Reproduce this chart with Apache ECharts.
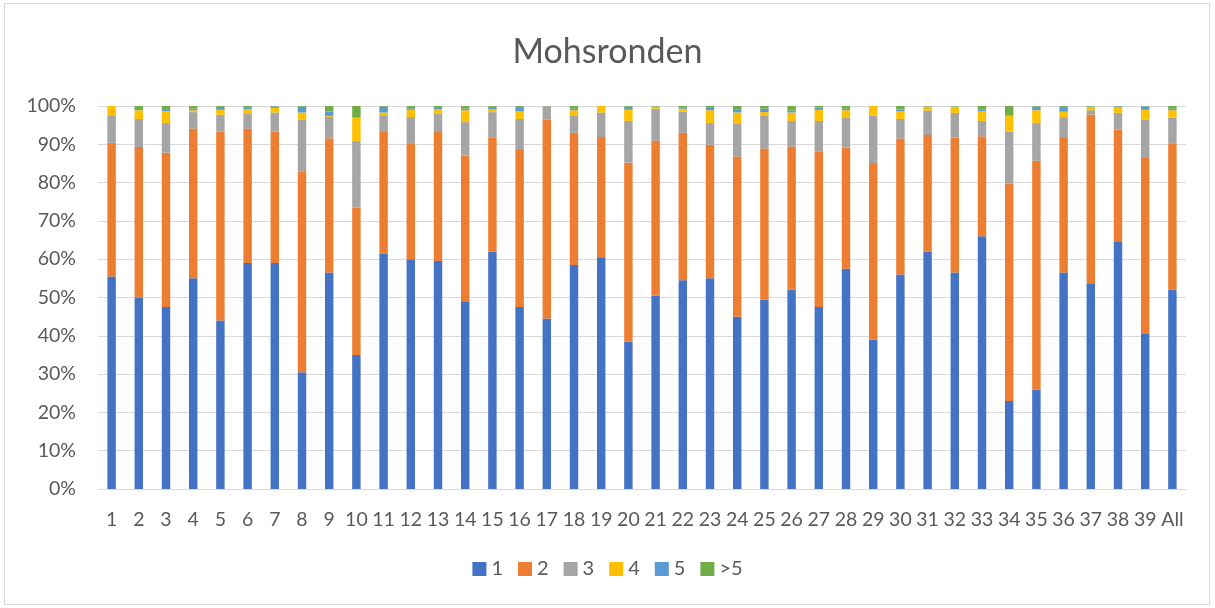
<!DOCTYPE html>
<html>
<head>
<meta charset="utf-8">
<script src="https://cdn.jsdelivr.net/npm/echarts@6/dist/echarts.min.js"></script>
<style>html,body{margin:0;padding:0;background:#fff}#c{width:1215px;height:608px}</style>
</head>
<body>
<div id="c"></div>
<script>
const categories = ['1','2','3','4','5','6','7','8','9','10','11','12','13','14','15','16','17','18','19','20','21','22','23','24','25','26','27','28','29','30','31','32','33','34','35','36','37','38','39','All'];
const s1 = [55.5,50,47.5,55,44,59,59,30.5,56.5,35,61.5,60,59.5,49,62,47.5,44.5,58.5,60.5,38.5,50.5,54.5,55,45,49.5,52,47.5,57.5,39,56,62,56.5,66,23,26,56.5,53.5,64.5,40.5,52];
const s2 = [34.9,39.3,40.3,39.1,49.3,35.1,34.3,52.3,35.1,38.5,31.7,30.1,33.7,38.1,29.7,41,51.9,34.5,31.4,46.7,40.4,38.5,34.9,41.8,39.4,37.4,40.7,31.6,46.1,35.5,30.4,35.3,26.1,56.7,59.7,35.4,44.3,29.3,45.9,38.1];
const s3 = [7.2,7.3,7.8,4.3,4.4,3.8,5,13.7,5.6,17.4,4.2,7,4.7,8.7,6.7,8.1,3.4,4.4,6.4,10.9,8.4,5.5,5.7,8.5,8.5,6.7,7.9,7.8,12.4,5.1,6.4,6.4,4,13.6,9.9,5.2,1.1,4.4,10.1,6.9];
const s4 = [2.4,2.3,3.1,0.5,1.3,1.3,1.2,1.8,0.2,6,0.9,1.9,1.3,3.1,0.7,2,0.1,1.5,1.7,2.9,0.5,0.8,3.3,3,1,2.2,2.9,2,2.5,2,1,1.6,2.5,4.1,3.3,1.4,0.9,1.4,2.5,1.9];
const s5 = [0,0.3,0.5,0.4,0.8,0.5,0.4,1.5,1.2,0.1,1.5,0.4,0.5,0.4,0.7,1.2,0.1,0.4,0,0.8,0.1,0.2,0.6,0.7,0.9,0.5,0.6,0.4,0,0.5,0.1,0.1,0.5,0.1,0.9,1.3,0.1,0.3,0.9,0.4];
const s6 = [0,0.8,0.8,0.7,0.2,0.3,0.1,0.2,1.4,3,0.2,0.6,0.3,0.7,0.2,0.2,0,0.7,0,0.2,0.1,0.5,0.5,1,0.7,1.2,0.4,0.7,0,0.9,0.1,0.1,0.9,2.5,0.2,0.2,0.1,0.1,0.1,0.7];
const seriesNames = ['1','2','3','4','5','>5'];
const yTicks = [0,10,20,30,40,50,60,70,80,90,100];

const colors = ['#4472C4','#ED7D31','#A5A5A5','#FFC000','#5B9BD5','#70AD47'];
const allData = [s1,s2,s3,s4,s5,s6];
const FONT = 'Lato, "Open Sans", sans-serif';

const chart = echarts.init(document.getElementById('c'), null, {renderer:'canvas'});
chart.setOption({
  animation:false,
  backgroundColor:'#fff',
  color: colors,
  graphic:[{type:'rect', shape:{x:4.5,y:3.5,width:1205,height:601}, style:{fill:'none', stroke:'#d9d9d9', lineWidth:1}, silent:true, z:-1}],
  title:{text:'Mohsronden', left:'center', top:30, textStyle:{fontFamily:FONT, fontSize:34, fontWeight:'normal', color:'#595959'}},
  legend:{data:seriesNames, bottom:24, left:'center', itemWidth:14, itemHeight:14, itemGap:15, icon:'rect', textStyle:{fontFamily:FONT, fontSize:20, color:'#595959'}},
  grid:{left:98, right:29, top:106, bottom:119},
  xAxis:{type:'category', data:categories,
    axisLine:{lineStyle:{color:'#d9d9d9'}}, axisTick:{show:false},
    axisLabel:{fontFamily:FONT, fontSize:19.5, color:'#595959', margin:21, interval:0}},
  yAxis:{type:'value', min:0, max:100, interval:10,
    axisLabel:{fontFamily:FONT, fontSize:19.5, color:'#595959', margin:22, formatter: v => yTicks.includes(v) ? v + '%' : ''},
    splitLine:{lineStyle:{color:'#d9d9d9'}}, axisLine:{show:false}, axisTick:{show:false}},
  series: seriesNames.map((n,i)=>({name:n, type:'bar', stack:'t', data:allData[i], barWidth:'31%', itemStyle:{color:colors[i]}}))
});
</script>
</body>
</html>
